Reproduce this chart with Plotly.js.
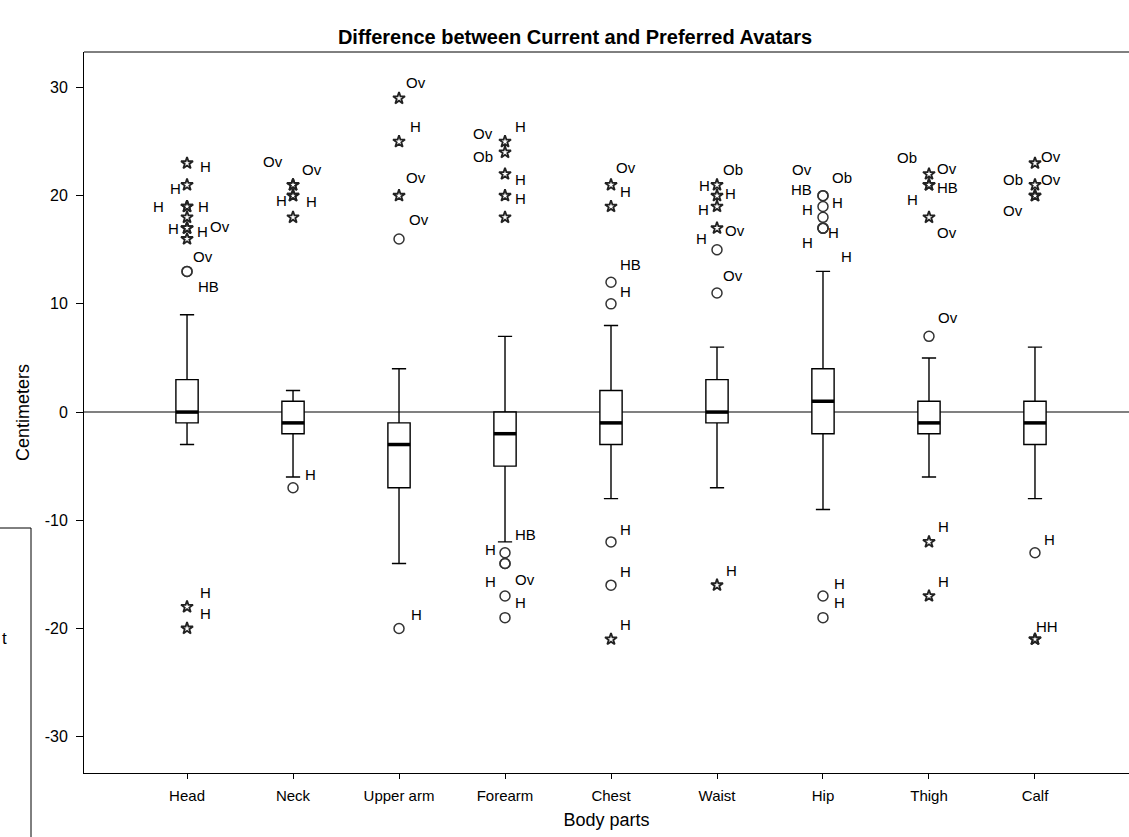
<!DOCTYPE html>
<html>
<head>
<meta charset="utf-8">
<script src="https://cdn.plot.ly/plotly-3.0.1.min.js"></script>
<style>html,body{margin:0;padding:0;background:#fff;overflow:hidden}#chart{width:1129px;height:837px}</style>
</head>
<body>
<div id="chart"></div>
<script>
// ---- data ----
var categories = ['Head','Neck','Upper arm','Forearm','Chest','Waist','Hip','Thigh','Calf'];
var q1 =            [-1, -2,  -7, -5, -3, -1, -2, -2, -3];
var median =        [ 0, -1,  -3, -2, -1,  0,  1, -1, -1];
var q3 =            [ 3,  1,  -1,  0,  2,  3,  4,  1,  1];
var lowerWhisker =  [-3, -6, -14,-12, -8, -7, -9, -6, -8];
var upperWhisker =  [ 9,  2,   4,  7,  8,  6, 13,  5,  6];

// outliers (circles)
var outlierCat = ['Head','Head','Neck','Upper arm','Upper arm','Forearm','Forearm','Forearm','Forearm','Forearm',
  'Chest','Chest','Chest','Chest','Waist','Waist','Hip','Hip','Hip','Hip','Hip','Hip','Hip','Hip','Hip','Thigh','Calf'];
var outlierVal = [13,13,-7,16,-20,-13,-14,-14,-17,-19,
  12,10,-12,-16,15,11,20,20,19,18,17,17,17,-17,-19,7,-13];

// extremes (stars)
var extremeCat = ['Head','Head','Head','Head','Head','Head','Head','Head','Head','Head',
  'Neck','Neck','Neck','Neck','Neck','Upper arm','Upper arm','Upper arm',
  'Forearm','Forearm','Forearm','Forearm','Forearm','Chest','Chest','Chest',
  'Waist','Waist','Waist','Waist','Waist','Thigh','Thigh','Thigh','Thigh','Thigh','Thigh',
  'Calf','Calf','Calf','Calf','Calf','Calf'];
var extremeVal = [23,21,19,19,18,17,17,16,-18,-20,
  21,21,20,20,18,29,25,20,
  25,24,22,20,18,21,19,-21,
  21,20,19,17,-16,22,21,21,18,-12,-17,
  23,21,20,20,-21,-21];

// point labels
var labelCat = ['Head','Head','Head','Head','Head','Head','Head','Head','Head','Head','Head',
  'Neck','Neck','Neck','Neck','Neck',
  'Upper arm','Upper arm','Upper arm','Upper arm','Upper arm',
  'Forearm','Forearm','Forearm','Forearm','Forearm','Forearm','Forearm','Forearm','Forearm','Forearm',
  'Chest','Chest','Chest','Chest','Chest','Chest','Chest',
  'Waist','Waist','Waist','Waist','Waist','Waist','Waist','Waist',
  'Hip','Hip','Hip','Hip','Hip','Hip','Hip','Hip','Hip','Hip',
  'Thigh','Thigh','Thigh','Thigh','Thigh','Thigh','Thigh','Thigh',
  'Calf','Calf','Calf','Calf','Calf','Calf'];
var labelVal = [23,21,19,19,17,17,17,13,13,-18,-20,
  21,21,20,20,-7,
  29,25,20,16,-20,
  25,25,24,22,20,-13,-13,-14,-14,-17,
  21,21,12,12,-12,-16,-21,
  21,21,20,19,17,15,11,-16,
  20,20,20,19,19,17,17,17,-17,-19,
  22,22,21,21,18,7,-12,-17,
  23,21,21,20,-13,-21];
var labelText = ['H','H','H','H','H','H','Ov','Ov','HB','H','H',
  'Ov','Ov','H','H','H',
  'Ov','H','Ov','Ov','H',
  'Ov','H','Ob','H','H','HB','H','H','Ov','H',
  'Ov','H','HB','H','H','H','H',
  'Ob','H','H','H','Ov','H','Ov','H',
  'Ov','Ob','HB','H','H','H','H','H','H','H',
  'Ob','Ov','HB','H','Ov','Ov','H','H',
  'Ov','Ob','Ov','Ov','H','HH'];
// label offsets (style): [dx, dy] pixels from the point, dy downward
var labelOffset = [[18,3],[-12,4],[-29,0],[16,0],[-14,0],[15,3],[33,-2],[16,-15],[21,15],[18,-14],[18,-15],
  [-20,-23],[19,-15],[-12,5],[18,6],[17,-13],
  [17,-16],[16,-15],[17,-18],[20,-19],[17,-14],
  [-22,-8],[15,-15],[-22,4],[15,5],[15,3],[20,-18],[-15,-3],[-15,18],[20,16],[15,6],
  [15,-17],[14,7],[19,-18],[14,9],[14,-12],[14,-14],[14,-15],
  [16,-15],[-13,1],[13,-2],[-14,3],[18,2],[-16,-11],[16,-18],[14,-15],
  [-21,-26],[19,-18],[-21,-6],[15,-4],[-15,3],[11,4],[-15,14],[24,28],[17,-13],[17,-15],
  [-22,-17],[18,-6],[19,3],[-16,15],[18,15],[19,-19],[15,-15],[15,-15],
  [16,-7],[-22,-5],[16,-5],[-22,15],[15,-13],[12,-13]];

var yTicks = [-30,-20,-10,0,10,20,30];
var yTickText = ['-30','-20','-10','0','10','20','30'];

// ---- build ----
var FONT = 'Liberation Sans, Arial, sans-serif';
function idx(c){ return categories.indexOf(c); }
var xs = categories.map(function(c,i){ return i; });
var boxHalf = 0.105;

var traces = [];
traces.push({
  type:'box', x: xs, q1: q1, median: median, q3: q3,
  lowerfence: lowerWhisker, upperfence: upperWhisker,
  boxpoints:false, width: boxHalf*2, whiskerwidth: 0.64,
  fillcolor:'#ffffff', line:{color:'#000000', width:1.4},
  hoverinfo:'skip', showlegend:false
});
var mx=[], my=[];
median.forEach(function(m,i){ mx.push(i-boxHalf, i+boxHalf, null); my.push(m,m,null); });
traces.push({type:'scatter', mode:'lines', x:mx, y:my, line:{color:'#000', width:3.5}, showlegend:false, hoverinfo:'skip'});
traces.push({type:'scatter', mode:'markers', x: outlierCat.map(idx), y: outlierVal,
  marker:{symbol:'circle-open', size:10, color:'#333', line:{width:1.5, color:'#333'}}, showlegend:false, hoverinfo:'skip'});
traces.push({type:'scatter', mode:'markers', x: extremeCat.map(idx), y: extremeVal,
  marker:{symbol:'star-open', size:9, color:'#222', line:{width:1.8, color:'#222'}}, showlegend:false, hoverinfo:'skip'});

var annotations = labelText.map(function(t,i){
  return {x: idx(labelCat[i]), y: labelVal[i], xref:'x', yref:'y', text:t, showarrow:false,
    xanchor:'center', yanchor:'middle', xshift: labelOffset[i][0], yshift: -labelOffset[i][1],
    font:{family:FONT, size:15, color:'#000'}};
});
annotations.push({xref:'paper', yref:'paper', x:(9-84)/1045, y:(773-638)/721, xanchor:'right', yanchor:'middle',
  text:'t', showarrow:false, font:{family:FONT, size:17, color:'#000'}});

var layout = {
  width:1129, height:837,
  margin:{l:84, r:0, t:52, b:64},
  paper_bgcolor:'#fff', plot_bgcolor:'#fff',
  font:{family:FONT, color:'#000'},
  title:{text:'<b>Difference between Current and Preferred Avatars</b>', x:575/1129, xanchor:'center', y:1-37/837, yanchor:'middle',
    font:{size:20, color:'#000'}},
  xaxis:{range:[-0.972, 8.887], tickvals: xs, ticktext: categories, ticks:'outside', ticklen:5, tickcolor:'#000',
    ticklabelstandoff:4,
    showline:true, linecolor:'#000', linewidth:1, showgrid:false, zeroline:false,
    tickfont:{size:15}, title:{text:'Body parts', font:{size:18}, standoff:10}},
  yaxis:{range:[-33.36, 33.28], tickvals: yTicks, ticktext: yTickText, ticks:'outside', ticklen:7, tickcolor:'#000',
    ticklabelstandoff:5,
    showline:true, linecolor:'#000', linewidth:1, showgrid:false, zeroline:false,
    tickfont:{size:16}, title:{text:'Centimeters', font:{size:18}, standoff:10}},
  shapes:[
    {type:'line', xref:'paper', yref:'y', x0:0, x1:1, y0:0, y1:0, line:{color:'#808080', width:2}, layer:'below'},
    {type:'line', xref:'paper', yref:'paper', x0:0, x1:1, y0:1, y1:1, line:{color:'#000', width:1}},
    {type:'rect', xref:'paper', yref:'paper', x0:-0.2, x1:(31-84)/1045, y0:-0.2, y1:(773-528)/721, line:{color:'#000', width:1}, fillcolor:'rgba(0,0,0,0)'}
  ],
  annotations: annotations,
  showlegend:false
};
Plotly.newPlot('chart', traces, layout, {staticPlot:true, displayModeBar:false});
</script>
</body>
</html>
